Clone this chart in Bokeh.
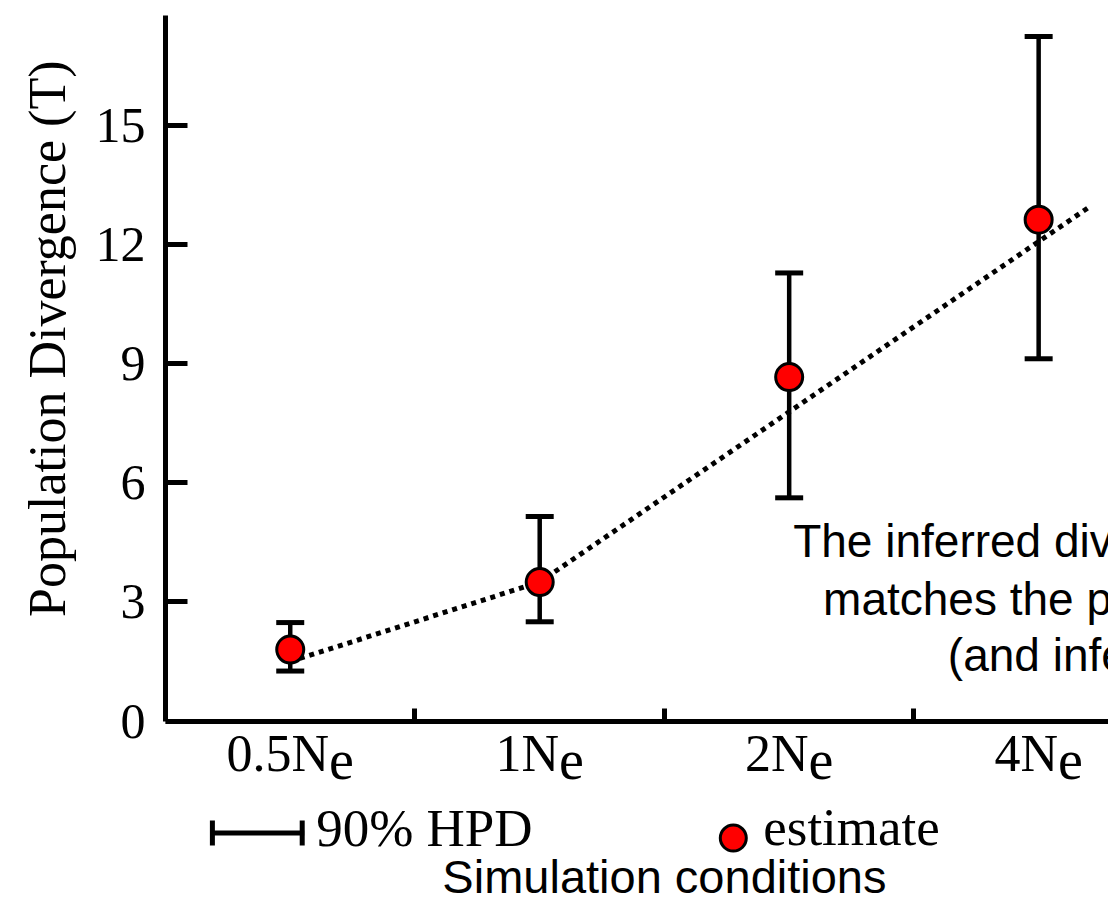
from bokeh.plotting import figure
from bokeh.models import Range1d, FixedTicker, Title
from bokeh.core.properties import value
from bokeh.embed import file_html
from bokeh.resources import INLINE

# ---------------- data ----------------
cat_prefix = ["0.5N", "1N", "2N", "4N"]      # category labels (N with subscript e)
cat_sub = ["e", "e", "e", "e"]
cat_x = [0, 1, 2, 3]
estimate = [1.80, 3.50, 8.66, 12.62]
hpd_lower = [1.26, 2.50, 5.62, 9.12]
hpd_upper = [2.48, 5.15, 11.28, 17.23]
trend_x = [0, 1, 3.21]
trend_y = [1.50, 3.50, 12.97]
y_ticks = [0, 3, 6, 9, 12, 15, 18]
annotation_lines = ["The inferred div", "matches the p", "(and infe"]

SERIF = "Liberation Serif"
SANS = "Liberation Sans"

# pixel geometry helpers (layout only)
PX_PER_Y = 39.73
PX_PER_X = 250.0
W, H = 1108, 906
LEFT, TOP = 163, 15
frame_h = H - TOP
y_top = 17.76
y_bot = y_top - frame_h / PX_PER_Y
x_left = -0.5
x_right = x_left + (W - LEFT) / PX_PER_X
BASE_K = 0.37   # svg text baseline correction (fraction of font size)

def ypx(page_y):
    # page pixel -> data value (0 sits at page y 720)
    return (720 - page_y) / PX_PER_Y

def ybase(page_y, fs):
    return ypx(page_y - BASE_K * fs)

def xpx(page_x):
    return (page_x - 288) / PX_PER_X

p = figure(width=W, height=H, output_backend="svg", toolbar_location=None,
           x_range=Range1d(x_left, x_right), y_range=Range1d(y_bot, y_top),
           x_axis_location="above",
           min_border_left=LEFT, min_border_top=TOP, min_border_right=0,
           min_border_bottom=0)
p.outline_line_color = None
p.xgrid.visible = False
p.ygrid.visible = False
p.background_fill_color = "white"

# y axis
ya = p.yaxis[0]
ya.ticker = FixedTicker(ticks=y_ticks)
ya.bounds = (0, 18)
ya.axis_line_width = 5
ya.major_tick_line_width = 5
ya.major_tick_in = 22
ya.major_tick_out = 0
ya.minor_tick_line_color = None
ya.major_label_text_font = SERIF
ya.major_label_text_font_size = "50px"
ya.major_label_text_color = "black"
ya.major_label_standoff = 20

# x axis drawn at y = 0 inside the frame (ticks pointing up)
xa = p.xaxis[0]
xa.fixed_location = 0
xa.bounds = (-0.5, 3.5)
xa.ticker = FixedTicker(ticks=[0.5, 1.5, 2.5])
xa.major_label_overrides = {0.5: "", 1.5: "", 2.5: ""}
xa.major_label_text_font_size = "0px"
xa.major_label_standoff = 0
xa.axis_line_width = 5
xa.major_tick_line_width = 5
xa.major_tick_in = 0
xa.major_tick_out = 13
xa.minor_tick_line_color = None

# y axis title
p.add_layout(Title(text="Population Divergence (T)", text_font=SERIF,
                   text_font_size="52px", text_font_style="normal",
                   align="right", offset=45, standoff=33, text_color="black"), "left")

# dotted trend
p.line(trend_x, trend_y, line_color="black", line_width=5, line_dash="5 5")

# HPD error bars
p.segment(x0=cat_x, y0=hpd_lower, x1=cat_x, y1=hpd_upper,
          line_color="black", line_width=4.5)
p.scatter(cat_x, hpd_lower, marker="dash", size=28, line_width=5, line_color="black")
p.scatter(cat_x, hpd_upper, marker="dash", size=28, line_width=5, line_color="black")

# estimates
p.scatter(cat_x, estimate, marker="circle", size=27, fill_color="#ff0000",
          line_color="black", line_width=3)

# category labels with subscript e
em = {"0": 0.5, ".": 0.25, "5": 0.5, "1": 0.5, "2": 0.5, "4": 0.5, "N": 0.722, "e": 0.444}
fs_main, fs_sub = 52, 56
off_prefix, off_sub = [], []
for pre, sub in zip(cat_prefix, cat_sub):
    wp = sum(em[c] for c in pre) * fs_main
    ws = sum(em[c] for c in sub) * fs_sub
    off_prefix.append(-(wp + ws) / 2)
    off_sub.append(-(wp + ws) / 2 + wp)
p.text(x=cat_x, y=[ybase(772, fs_main)] * 4, text=cat_prefix, x_offset=off_prefix,
       text_font=value(SERIF), text_font_size=value(f"{fs_main}px"),
       text_align="left", text_baseline="alphabetic", text_color="black")
p.text(x=cat_x, y=[ybase(780, fs_sub)] * 4, text=cat_sub, x_offset=off_sub,
       text_font=value(SERIF), text_font_size=value(f"{fs_sub}px"),
       text_align="left", text_baseline="alphabetic", text_color="black")

# legend row
leg_y = ypx(832)
p.segment(x0=[xpx(208)], y0=[leg_y], x1=[xpx(302)], y1=[leg_y],
          line_color="black", line_width=5)
p.scatter([xpx(210)], [leg_y], marker="dash", angle=1.5708,
          size=25, line_width=5, line_color="black")
p.scatter([xpx(300)], [leg_y], marker="dash", angle=1.5708,
          size=25, line_width=5, line_color="black")
p.text(x=[xpx(314)], y=[ybase(847, 53)], text=["90% HPD"], text_font=value(SERIF),
       text_font_size=value("53px"), text_baseline="alphabetic", text_color="black")
p.scatter([xpx(732)], [ypx(837)], marker="circle", size=26, fill_color="#ff0000",
          line_color="black", line_width=3)
p.text(x=[xpx(762)], y=[ybase(846, 53)], text=["estimate"], text_font=value(SERIF),
       text_font_size=value("53px"), text_baseline="alphabetic", text_color="black")

# x axis title
p.text(x=[1.5], y=[ybase(893, 47)], text=["Simulation conditions"], text_font=value(SANS),
       text_font_size=value("47px"), text_align="center", text_baseline="alphabetic",
       text_color="black")

# annotation (clipped at right edge as in the original)
p.text(x=[xpx(792), xpx(822), xpx(947)],
       y=[ybase(557, 46), ybase(615, 46), ybase(671, 46)],
       text=annotation_lines, text_font=value(SANS), text_font_size=value("46px"),
       text_align="left", text_baseline="alphabetic", text_color="black")

open("out.html", "w").write(file_html(p, INLINE))
